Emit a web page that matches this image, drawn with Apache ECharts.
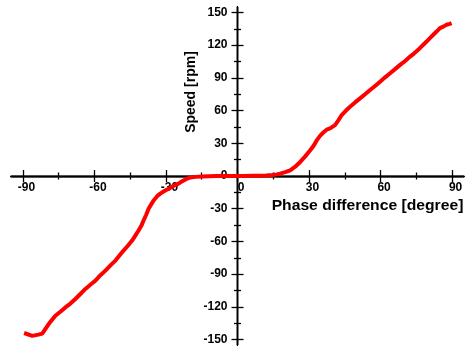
<!DOCTYPE html>
<html>
<head>
<meta charset="utf-8">
<script src="https://cdn.jsdelivr.net/npm/echarts@6/dist/echarts.min.js"></script>
<style>
  html, body { margin: 0; padding: 0; background: #fff; }
  #chart { width: 469px; height: 351px; }
</style>
</head>
<body>
<div id="chart"></div>
<script>
// phase difference [degree] vs speed [rpm]
var phaseDeg = [-89.5, -88.9, -86.1, -83.5, -81.9, -79.2, -76.4, -74.3, -72.2, -70.1, -68.0, -65.8,
    -63.8, -61.6, -59.6, -57.5, -55.4, -53.3, -51.2, -49.5, -47.8, -46.0, -44.2, -42.8, -41.5,
    -40.3, -39.4, -38.3, -37.3, -36.2, -35.2, -33.7, -32.4, -30.5, -28.9, -26.8, -24.7, -23.0,
    -21.2, -19.8, -17.5, -15, -12, -9, -6, -3, 0, 3, 6, 9, 12, 14.5, 16.5, 17.9, 20.0, 22.1,
    24.2, 26.3, 28.4, 30.5, 32.0, 33.3, 34.7, 36.0, 37.4, 38.8, 40.9, 42.3, 43.7, 45.5, 47.2,
    49.3, 51.4, 53.5, 55.6, 57.7, 59.8, 61.9, 64.0, 66.1, 68.2, 70.3, 72.4, 74.1, 75.8, 77.5,
    79.3, 80.7, 82.1, 83.5, 84.9, 86.3, 87.7, 89.0, 89.8];
var speedRpm = [-144, -145, -146.6, -145.5, -144.5, -135.8, -128.2, -124.5, -120.5, -117, -112.8, -108,
    -103.6, -99.5, -96, -91, -86.8, -82, -77.6, -73, -68.4, -64, -59.2, -54.5, -50,
    -45.5, -40.8, -35.5, -30, -26, -22.4, -18.5, -16.2, -13.5, -11.6, -9, -7, -4.5,
    -2.4, -1.5, -0.8, -0.5, -0.2, 0, 0, 0, 0, 0, 0.2, 0.3, 0.5, 1, 1.5, 2.2, 3.5, 5.2,
    8.5, 12.9, 18, 23.6, 28, 32.9, 37, 39.9, 42.5, 43.6, 46.7, 51, 55.9, 60, 63.5,
    67.5, 71.2, 75, 78.9, 82.5, 86.5, 90.5, 94.2, 98, 101.9, 105.5, 109.5, 112.5, 115.7, 119.5,
    123.3, 126.5, 129.5, 132.5, 135.6, 137, 138.7, 139.5, 140.2];

var xMajor = [-90, -60, -30, 0, 30, 60, 90];
var xMinor = [-75, -45, -15, 15, 45, 75];
var yMajor = [-150, -120, -90, -60, -30, 0, 30, 60, 90, 120, 150];
var yMinor = [-135, -105, -75, -45, -15, 15, 45, 75, 105, 135];

var W = 469, H = 351;
var gLeft = 11, gRight = 5, gTop = 7, gBottom = 6;
var xMin = -95, xMax = 95, yMin = -155, yMax = 155;
// axes cross at the origin: shift them inward from the grid edges
var yOffset = -(W - gLeft - gRight) * (0 - xMin) / (xMax - xMin);
var xOffset = -(H - gTop - gBottom) * (0 - yMin) / (yMax - yMin);

var myChart = echarts.init(document.getElementById('chart'));

var lineStyle = { color: '#000', width: 1.3 };
var labelFont = { fontFamily: 'Liberation Sans', fontWeight: 'bold', fontSize: 12, color: '#000' };

function makeX(ticks, len, inside, withLabel) {
    return {
        type: 'value', min: xMin, max: xMax, position: 'bottom', offset: xOffset,
        axisLine: { show: true, onZero: false, lineStyle: lineStyle },
        axisTick: { show: true, customValues: ticks, length: len, inside: inside, lineStyle: lineStyle },
        axisLabel: withLabel ? Object.assign({ show: true, customValues: xMajor, margin: 6,
            padding: [0, 0, 0, 7] }, labelFont) : { show: false },
        splitLine: { show: false }
    };
}
function makeY(ticks, len, inside, withLabel) {
    return {
        type: 'value', min: yMin, max: yMax, position: 'left', offset: yOffset,
        axisLine: { show: true, onZero: false, lineStyle: lineStyle },
        axisTick: { show: true, customValues: ticks, length: len, inside: inside, lineStyle: lineStyle },
        axisLabel: withLabel ? Object.assign({ show: true, customValues: yMajor, margin: 10 }, labelFont) : { show: false },
        splitLine: { show: false }
    };
}

var option = {
    animation: false,
    backgroundColor: '#fff',
    grid: { left: gLeft, right: gRight, top: gTop, bottom: gBottom, containLabel: false, outerBoundsMode: 'none' },
    xAxis: [
        makeX(xMajor, 6, false, true),
        makeX(xMajor, 6, true, false),
        makeX(xMinor, 3.5, false, false),
        makeX(xMinor, 3.5, true, false)
    ],
    yAxis: [
        makeY(yMajor, 6, false, true),
        makeY(yMajor, 6, true, false),
        makeY(yMinor, 3.5, false, false),
        makeY(yMinor, 3.5, true, false)
    ],
    graphic: [{
        type: 'text',
        x: 367.5, y: 206,
        scaleX: 1.12,
        style: {
            text: 'Phase difference [degree]',
            fontFamily: 'Liberation Sans', fontWeight: 'bold', fontSize: 14,
            fill: '#000', align: 'center', verticalAlign: 'middle'
        }
    }, {
        type: 'text',
        x: 191, y: 92,
        rotation: Math.PI / 2,
        style: {
            text: 'Speed [rpm]',
            fontFamily: 'Liberation Sans', fontWeight: 'bold', fontSize: 14,
            fill: '#000', align: 'center', verticalAlign: 'middle'
        }
    }],
    series: [{
        type: 'line',
        xAxisIndex: 0,
        yAxisIndex: 0,
        data: phaseDeg.map(function (p, i) { return [p, speedRpm[i]]; }),
        showSymbol: false,
        lineStyle: { color: '#ff0000', width: 4 },
        itemStyle: { color: '#ff0000' },
        z: 3
    }]
};

myChart.setOption(option);
window.addEventListener('resize', function () {
    myChart.resize();
});
</script>
</body>
</html>
